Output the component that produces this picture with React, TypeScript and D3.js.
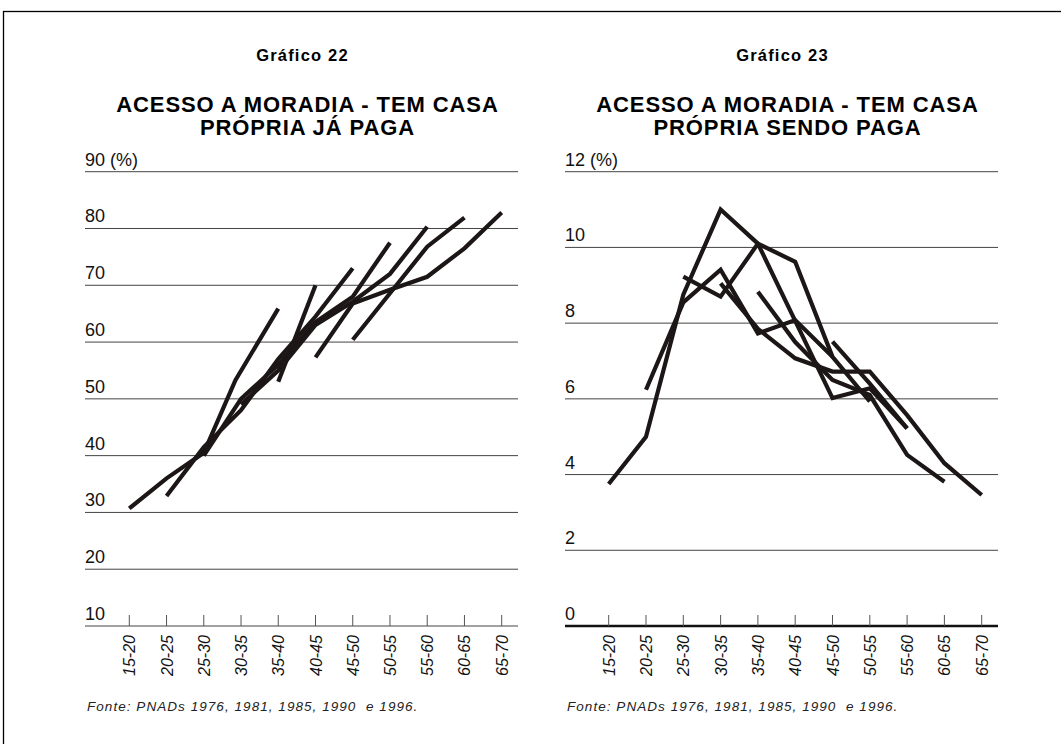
import React from 'react';
import * as d3 from 'd3';

const CATEGORIES = ['15-20', '20-25', '25-30', '30-35', '35-40', '40-45', '45-50', '50-55', '55-60', '60-65', '65-70'];
const LEFT_Y_TICKS = [10, 20, 30, 40, 50, 60, 70, 80, 90];
const RIGHT_Y_TICKS = [0, 2, 4, 6, 8, 10, 12];
const SOURCE = 'Fonte: PNADs 1976, 1981, 1985, 1990\u00a0 e 1996.';

// Each series: [age-group position, value]
const LEFT_A = [[0, 30.7], [1, 36], [2, 40.5], [2.85, 53.3], [4, 65.9]];
const LEFT_B = [[1, 32.9], [2, 41.5], [3, 48], [4, 57], [5, 64.5], [6, 73]];
const LEFT_C = [[4, 53], [5, 70]];
const LEFT_D = [[2, 40], [3, 50], [4, 56], [5, 63.5], [6, 68], [7, 77.5]];
const LEFT_E = [[3, 49], [4, 55], [5, 63], [6, 67.1], [7, 72], [8, 80.3]];
const LEFT_F = [[6, 60.4], [7, 68.6], [8, 76.8], [9, 81.9]];
const LEFT_G = [[5, 57.3], [6, 66.8], [7, 69.2], [8, 71.5], [9, 76.5], [10, 82.8]];
const LEFT_SERIES = [LEFT_A, LEFT_B, LEFT_C, LEFT_D, LEFT_E, LEFT_F, LEFT_G];

const RIGHT_A = [[0, 3.75], [1, 5.0], [2, 8.75], [3, 11.0], [4, 10.1], [5, 8.06], [6, 6.02], [7, 6.28], [8, 5.22]];
const RIGHT_B = [[1, 6.24], [2, 8.55], [3, 9.41], [4, 7.73], [5, 8.08], [6, 7.11]];
const RIGHT_C = [[2, 9.23], [3, 8.7], [4, 10.1], [5, 9.62], [6, 7.11], [7, 5.93]];
const RIGHT_D = [[3, 9.05], [4, 7.85], [5, 7.07], [6, 6.72], [7, 6.72], [8, 5.57], [9, 4.3], [10, 3.46]];
const RIGHT_E = [[4, 8.83], [5, 7.5], [6, 6.5], [7, 6.1], [8, 4.52], [9, 3.81]];
const RIGHT_F = [[6, 7.51], [7, 6.4], [8, 5.22]];
const RIGHT_SERIES = [RIGHT_A, RIGHT_B, RIGHT_C, RIGHT_D, RIGHT_E, RIGHT_F];

const FONT = '"Liberation Sans", Arial, Helvetica, sans-serif';

type PanelProps = {
  number: string;
  title1: string;
  title2: string;
  gridX0: number;
  gridX1: number;
  catX0: number;
  catX1: number;
  yDomain: [number, number];
  yTicks: number[];
  series: number[][][];
  boldBase: boolean;
};

function Panel(p: PanelProps) {
  const yTop = 171.7;
  const yBottom = 626;
  const x = d3.scaleLinear().domain([0, CATEGORIES.length - 1]).range([p.catX0, p.catX1]);
  const y = d3.scaleLinear().domain(p.yDomain).range([yBottom, yTop]);
  const line = d3.line<number[]>().x(d => x(d[0])).y(d => y(d[1]));
  const cx = (p.gridX0 + p.gridX1) / 2;
  const top = p.yTicks[p.yTicks.length - 1];
  return (
    <g>
      <text x={cx + 1} y={61} textAnchor="middle" fontFamily={FONT} fontWeight="bold" fontSize={16.5} letterSpacing={1.2} fill="#000">{p.number}</text>
      <text x={cx + 6} y={112} textAnchor="middle" fontFamily={FONT} fontWeight="bold" fontSize={22} letterSpacing={0.9} fill="#000">{p.title1}</text>
      <text x={cx + 6} y={135} textAnchor="middle" fontFamily={FONT} fontWeight="bold" fontSize={22} letterSpacing={0.9} fill="#000">{p.title2}</text>
      {p.yTicks.map((t, i) => {
        const isBase = i === 0 && p.boldBase;
        return (
          <g key={t}>
            <line x1={p.gridX0} x2={p.gridX1} y1={y(t)} y2={y(t)} stroke={isBase ? '#111' : '#444'} strokeWidth={isBase ? 2.5 : 1} />
            <text x={p.gridX0} y={y(t) - 6} fontFamily={FONT} fontSize={18} fill="#111">{t === top ? `${t} (%)` : `${t}`}</text>
          </g>
        );
      })}
      {CATEGORIES.map((c, i) => (
        <g key={c}>
          <line x1={x(i)} x2={x(i)} y1={yBottom - 11} y2={yBottom} stroke="#555" strokeWidth={1} />
          <text transform={`translate(${x(i) + 6},${yBottom + 9}) rotate(-90)`} textAnchor="end" fontFamily={FONT} fontStyle="italic" fontSize={16} fill="#111">{c}</text>
        </g>
      ))}
      {p.series.map((s, i) => (
        <path key={i} d={line(s) || ''} fill="none" stroke="#1c1616" strokeWidth={4.2} strokeLinejoin="miter" strokeMiterlimit={3} />
      ))}
      <text x={p.gridX0 + 2} y={711} fontFamily={FONT} fontStyle="italic" fontSize={13.5} letterSpacing={1.05} fill="#222">{SOURCE}</text>
    </g>
  );
}

export default function App() {
  return (
    <svg width={1061} height={744} style={{ position: 'absolute', left: 0, top: 0, background: '#fff' }}>
      <rect x={0} y={0} width={1061} height={744} fill="#fff" />
      <rect x={3.5} y={11.5} width={1200} height={900} fill="none" stroke="#000" strokeWidth={1.3} />
      <Panel number="Gráfico 22" title1="ACESSO A MORADIA - TEM CASA" title2="PRÓPRIA JÁ PAGA"
        gridX0={85} gridX1={518} catX0={129.3} catX1={501.7} yDomain={[10, 90]} yTicks={LEFT_Y_TICKS}
        series={LEFT_SERIES} boldBase={false} />
      <Panel number="Gráfico 23" title1="ACESSO A MORADIA - TEM CASA" title2="PRÓPRIA SENDO PAGA"
        gridX0={565} gridX1={998} catX0={608.7} catX1={981.7} yDomain={[0, 12]} yTicks={RIGHT_Y_TICKS}
        series={RIGHT_SERIES} boldBase={true} />
    </svg>
  );
}
